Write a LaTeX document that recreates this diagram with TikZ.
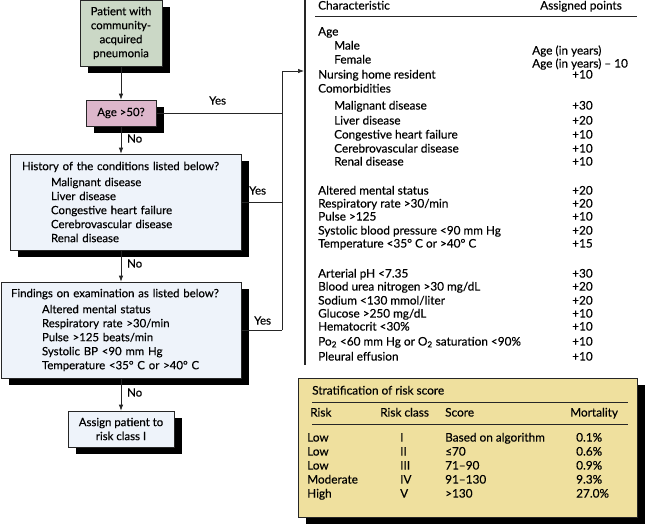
\documentclass[tikz,border=0pt]{standalone}
\usepackage{fontspec}
\setmainfont{Lato}[FakeBold=0.35]
\usetikzlibrary{arrows.meta,shadows}
\definecolor{boxgreen}{HTML}{CBD8C6}
\definecolor{boxpink}{HTML}{DDB6CB}
\definecolor{boxblue}{HTML}{EEF3FA}
\definecolor{boxyellow}{HTML}{EFE09E}
\definecolor{linegray}{HTML}{262626}
\begin{document}
\begin{tikzpicture}[x=1pt,y=-1pt,
  every node/.style={font=\fontsize{11.4}{14}\selectfont, text=black},
  fbox/.style={draw=linegray, line width=0.7pt, inner sep=0pt,
    drop shadow={shadow xshift=8pt, shadow yshift=-7pt, fill=black, opacity=1}},
  lbl/.style={anchor=mid west, inner sep=0pt},
  tl/.style={lbl, font=\fontsize{11.8}{14}\selectfont},
  conn/.style={draw=linegray, line width=0.7pt},
  arr/.style={conn, -{Latex[length=6pt,width=4.5pt]}}
]
\useasboundingbox (0,0) rectangle (645,525);
% ---------------- flowchart boxes
\node[fbox, fill=boxgreen, minimum width=82pt, minimum height=66pt, align=center] (pat) at (121,33)
  {Patient with\\community-\\acquired\\pneumonia};
\node[fbox, fill=boxpink, minimum width=70pt, minimum height=26pt] (age) at (121,113) {Age >50?};
\node[fbox, fill=boxblue, minimum width=231pt, minimum height=96pt, text width=207pt, inner xsep=12pt, align=left] (hist) at (125.5,202)
  {\mbox{History of the conditions listed below?}\\[2pt]
   \hspace*{29pt}Malignant disease\\
   \hspace*{29pt}Liver disease\\
   \hspace*{29pt}Congestive heart failure\\
   \hspace*{29pt}Cerebrovascular disease\\
   \hspace*{29pt}Renal disease};
\node[fbox, fill=boxblue, minimum width=240pt, minimum height=96pt, text width=220pt, inner xsep=10pt, align=left] (find) at (121,330)
  {\mbox{Findings on examination as listed below?}\\[2pt]
   \hspace*{31pt}Altered mental status\\
   \hspace*{31pt}Respiratory rate >30/min\\
   \hspace*{31pt}Pulse >125 beats/min\\
   \hspace*{31pt}Systolic BP <90 mm Hg\\
   \hspace*{31pt}Temperature <35° C or >40° C};
\node[fbox, fill=boxblue, minimum width=106pt, minimum height=36pt, align=center] (assign) at (121,429)
  {Assign patient to\\risk class I};
% ---------------- connectors
\coordinate (jt) at (282,71);
\coordinate (tb) at (304,71);
\draw[arr] (pat.south) -- (age.north);
\draw[arr] (age.south) -- (age.south |- hist.north);
\draw[arr] (hist.south -| age.south) -- (find.north);
\draw[arr] (find.south) -- (assign.north);
\draw[conn] (age.east) -- (age.east -| jt);
\draw[conn] (hist.east) -- (hist.east -| jt);
\draw[conn] (find.east) -- (find.east -| jt);
\draw[conn] (find.east -| jt) -- (jt);
\draw[arr] (jt) -- (tb);
\node[lbl] (no1) at (127,140) {No};
\node[lbl] (no2) at (127,265) {No};
\node[lbl] (no3) at (127,394) {No};
\node[lbl] (yes1) at (209,102) {Yes};
\node[lbl] (yes2) at (249,192) {Yes};
\node[lbl] (yes3) at (254,322) {Yes};
% ---------------- points table
\draw[draw=linegray, line width=1.8pt] (305,-1) -- (305,365);
\draw[conn] (315,16) -- (637,16);
\node[tl] (hc) at (318,7) {Characteristic};
\node[tl] (hp) at (540,7) {Assigned points};
\node[tl] (r1) at (318,33) {Age};
\node[tl] (r2) at (334,47) {Male};
\node[tl] (r3) at (334,61) {Female};
\node[tl] (r4) at (318,76) {Nursing home resident};
\node[tl] (r5) at (318,90) {Comorbidities};
\node[tl] (r6) at (334,107) {Malignant disease};
\node[tl] (r7) at (334,122) {Liver disease};
\node[tl] (r8) at (334,136) {Congestive heart failure};
\node[tl] (r9) at (334,150) {Cerebrovascular disease};
\node[tl] (r10) at (334,163) {Renal disease};
\node[tl] (v2) at (532,52) {Age (in years)};
\node[tl] (v3) at (532,65) {Age (in years) – 10};
\node[tl] (v4) at (572,76) {+10};
\node[tl] (v6) at (572,107) {+30};
\node[tl] (v7) at (572,122) {+20};
\node[tl] (v8) at (572,136) {+10};
\node[tl] (v9) at (572,150) {+10};
\node[tl] (v10) at (572,163) {+10};
\node[tl] (s1) at (318,192) {Altered mental status};
\node[tl] (s2) at (318,205) {Respiratory rate >30/min};
\node[tl] (s3) at (318,218) {Pulse >125};
\node[tl] (s4) at (318,232) {Systolic blood pressure <90 mm Hg};
\node[tl] (s5) at (318,245) {Temperature <35° C or >40° C};
\node[tl] (w1) at (572,192) {+20};
\node[tl] (w2) at (572,205) {+20};
\node[tl] (w3) at (572,218) {+10};
\node[tl] (w4) at (572,232) {+20};
\node[tl] (w5) at (572,245) {+15};
\node[tl] (t1) at (318,275) {Arterial pH <7.35};
\node[tl] (t2) at (318,288) {Blood urea nitrogen >30 mg/dL};
\node[tl] (t3) at (318,302) {Sodium <130 mmol/liter};
\node[tl] (t4) at (318,315) {Glucose >250 mg/dL};
\node[tl] (t5) at (318,328) {Hematocrit <30\%};
\node[tl] (t6) at (318,343) {Po\textsubscript{2} <60 mm Hg or O\textsubscript{2} saturation <90\%};
\node[tl] (t7) at (318,358) {Pleural effusion};
\node[tl] (u1) at (572,275) {+30};
\node[tl] (u2) at (572,288) {+20};
\node[tl] (u3) at (572,302) {+20};
\node[tl] (u4) at (572,315) {+10};
\node[tl] (u5) at (572,328) {+10};
\node[tl] (u6) at (572,343) {+10};
\node[tl] (u7) at (572,358) {+10};
% ---------------- stratification box
\node[fbox, fill=boxyellow, minimum width=339pt, minimum height=139pt] (strat) at (467.5,447.5) {};
\draw[conn] (312,402) -- (628,402);
\draw[conn] (312,424) -- (628,424);
\node[tl] (st) at (312,392) {Stratification of risk score};
\node[tl] (k1) at (310,414) {Risk};
\node[tl] (k2) at (380,414) {Risk class};
\node[tl] (k3) at (445,414) {Score};
\node[tl] (k4) at (570,414) {Mortality};
\node[tl] (a1) at (307,439) {Low};
\node[tl] (a2) at (307,453) {Low};
\node[tl] (a3) at (307,467) {Low};
\node[tl] (a4) at (307,481) {Moderate};
\node[tl] (a5) at (307,495) {High};
\node[tl] (b1) at (400,439) {I};
\node[tl] (b2) at (400,453) {II};
\node[tl] (b3) at (400,467) {III};
\node[tl] (b4) at (400,481) {IV};
\node[tl] (b5) at (400,495) {V};
\node[tl] (c1) at (445,439) {Based on algorithm};
\node[tl] (c2) at (445,453) {≤70};
\node[tl] (c3) at (445,467) {71–90};
\node[tl] (c4) at (445,481) {91–130};
\node[tl] (c5) at (445,495) {>130};
\node[tl] (d1) at (576,439) {0.1\%};
\node[tl] (d2) at (576,453) {0.6\%};
\node[tl] (d3) at (576,467) {0.9\%};
\node[tl] (d4) at (576,481) {9.3\%};
\node[tl] (d5) at (576,495) {27.0\%};
\end{tikzpicture}
\end{document}
